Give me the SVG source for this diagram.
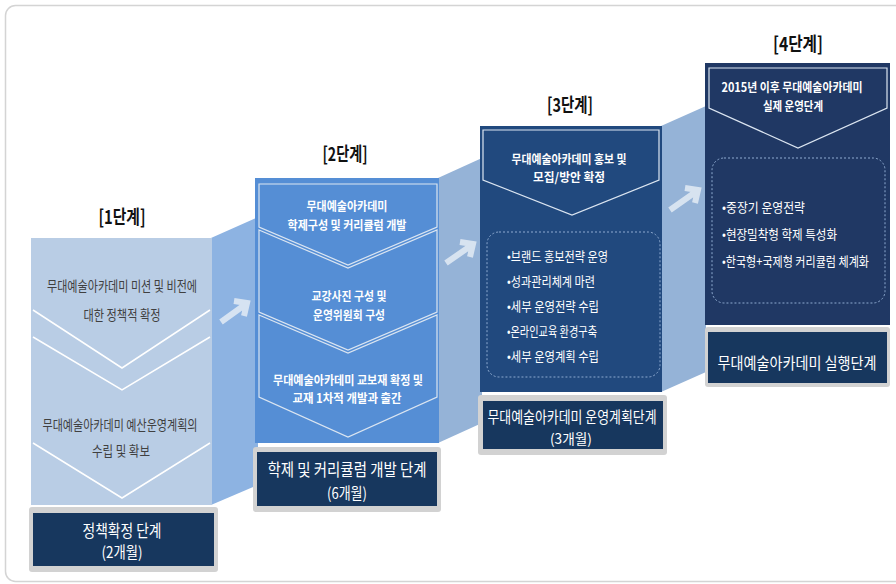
<svg xmlns="http://www.w3.org/2000/svg" width="896" height="584" viewBox="0 0 896 584">
<style>
text{font-family:"Noto Sans CJK KR","Noto Sans",sans-serif;}
.title{font-size:19px;font-weight:bold;fill:#111;text-anchor:middle;}
.t1{font-size:14px;fill:#404040;text-anchor:middle;}
.tb{font-size:12.5px;font-weight:bold;fill:#fff;text-anchor:middle;}
.bul{font-size:13px;fill:#fff;}
.lab{font-size:15.5px;fill:#fff;text-anchor:middle;}
.chev{fill:none;stroke:#dbe5f1;stroke-width:1.2;}
.chev1{fill:none;stroke:#ffffff;stroke-width:1.5;}
.dash{fill:none;stroke:#8eaad0;stroke-width:1;stroke-dasharray:2 2;}
.frame{fill:#d2d2d2;}
.dark{fill:#17375e;}
.arrow{fill:none;stroke:#e3ebf5;stroke-width:6;stroke-opacity:0.85;}
</style>
<rect x="5.5" y="5.5" width="902" height="576" rx="10" fill="#fff" stroke="#d4d4d4" stroke-width="1.5"/>
<g id="connectors">
<polygon points="211,238 258,217 258,485 211,505" fill="#8db3e2"/>
<polygon points="438,178 482,158 482,423 438,443" fill="#95b3d7"/>
<polygon points="661,126 706,106 706,372 661,392" fill="#95b3d7"/>
<path class="arrow" d="M221,322 L246,304 M234,301 L247,303 L244,316"/>
<path class="arrow" d="M446,263 L472,245 M460,242 L473,244 L470,257"/>
<path class="arrow" d="M670,210 L697,191 M685,188 L698,190 L695,203"/>
</g>
<g id="stage1">
<text class="title" x="122" y="224" textLength="47" lengthAdjust="spacingAndGlyphs">[1단계]</text>
<rect x="31" y="238" width="181" height="267" fill="#b9cde5"/>
<polyline class="chev1" points="33,310 122,368 210,310"/>
<polyline class="chev1" points="33,337 122,390 210,337"/>
<polyline class="chev1" points="33,443 122,498 210,443"/>
<text class="t1" x="122" y="291" textLength="150" lengthAdjust="spacingAndGlyphs">무대예술아카데미 미션 및 비전에</text>
<text class="t1" x="122" y="320" textLength="77" lengthAdjust="spacingAndGlyphs">대한 정책적 확정</text>
<text class="t1" x="120" y="430" textLength="155" lengthAdjust="spacingAndGlyphs">무대예술아카데미 예산운영계획의</text>
<text class="t1" x="121" y="456" textLength="58" lengthAdjust="spacingAndGlyphs">수립 및 확보</text>
<rect class="frame" x="29" y="507" width="189" height="65" rx="3"/>
<rect class="dark" x="33" y="513" width="181" height="53"/>
<text class="lab" x="122" y="537" style="font-size:16.5px" textLength="79" lengthAdjust="spacingAndGlyphs">정책확정 단계</text>
<text class="lab" x="122" y="558" textLength="41" lengthAdjust="spacingAndGlyphs">(2개월)</text>
</g>
<g id="stage2">
<text class="title" x="345" y="161" textLength="45" lengthAdjust="spacingAndGlyphs">[2단계]</text>
<rect x="255" y="178" width="184" height="265" fill="#558ed5"/>
<polygon class="chev" points="259,184 437,184 437,227 348,265 259,227"/>
<polygon class="chev" points="259,230 348,268 437,230 437,312 348,350 259,312"/>
<polygon class="chev" points="259,315 348,353 437,315 437,397 348,437 259,397"/>
<text class="tb" x="347" y="211" textLength="81" lengthAdjust="spacingAndGlyphs">무대예술아카데미</text>
<text class="tb" x="347" y="230" textLength="119" lengthAdjust="spacingAndGlyphs">학제구성 및 커리큘럼 개발</text>
<text class="tb" x="349" y="301" textLength="75" lengthAdjust="spacingAndGlyphs">교강사진 구성 및</text>
<text class="tb" x="349" y="320" textLength="72" lengthAdjust="spacingAndGlyphs">운영위원회 구성</text>
<text class="tb" x="348" y="385" textLength="150" lengthAdjust="spacingAndGlyphs">무대예술아카데미 교보재 확정 및</text>
<text class="tb" x="347" y="403" textLength="109" lengthAdjust="spacingAndGlyphs">교재 1차적 개발과 출간</text>
<rect class="frame" x="253" y="447" width="188" height="65" rx="3"/>
<rect class="dark" x="257" y="452" width="180" height="54"/>
<text class="lab" x="347" y="476" style="font-size:16.5px" textLength="159" lengthAdjust="spacingAndGlyphs">학제 및 커리큘럼 개발 단계</text>
<text class="lab" x="347" y="499" textLength="40" lengthAdjust="spacingAndGlyphs">(6개월)</text>
</g>
<g id="stage3">
<text class="title" x="570" y="112" textLength="46" lengthAdjust="spacingAndGlyphs">[3단계]</text>
<rect x="480" y="126" width="182" height="266" fill="#21497e"/>
<polygon class="chev" points="483,130 659,130 659,180 572,215 483,180"/>
<text class="tb" x="569" y="164" textLength="115" lengthAdjust="spacingAndGlyphs">무대예술아카데미 홍보 및</text>
<text class="tb" x="569" y="182" textLength="72" lengthAdjust="spacingAndGlyphs">모집/방안 확정</text>
<rect class="dash" x="487" y="232" width="173" height="145" rx="12"/>
<text class="bul" x="507" y="261" textLength="101" lengthAdjust="spacingAndGlyphs">•브랜드 홍보전략 운영</text>
<text class="bul" x="507" y="286" textLength="88" lengthAdjust="spacingAndGlyphs">•성과관리체계 마련</text>
<text class="bul" x="507" y="311" textLength="92" lengthAdjust="spacingAndGlyphs">•세부 운영전략 수립</text>
<text class="bul" x="507" y="336" textLength="90" lengthAdjust="spacingAndGlyphs">•온라인교육 환경구축</text>
<text class="bul" x="507" y="361" textLength="92" lengthAdjust="spacingAndGlyphs">•세부 운영계획 수립</text>
<rect class="frame" x="478" y="395" width="189" height="60" rx="3"/>
<rect class="dark" x="483" y="401" width="180" height="48"/>
<text class="lab" x="572" y="423" textLength="169" lengthAdjust="spacingAndGlyphs">무대예술아카데미  운영계획단계</text>
<text class="lab" x="571" y="444" style="font-size:14px" textLength="42" lengthAdjust="spacingAndGlyphs">(3개월)</text>
</g>
<g id="stage4">
<text class="title" x="798" y="51" textLength="50" lengthAdjust="spacingAndGlyphs">[4단계]</text>
<rect x="705" y="63" width="185" height="262" fill="#203864"/>
<polygon class="chev" points="709,68 887,68 887,108 798,148 709,108"/>
<text class="tb" x="792" y="92" textLength="141" lengthAdjust="spacingAndGlyphs">2015년 이후 무대예술아카데미</text>
<text class="tb" x="793" y="111" textLength="60" lengthAdjust="spacingAndGlyphs">실제 운영단계</text>
<rect class="dash" x="712" y="158" width="173" height="145" rx="12"/>
<text class="bul" x="722" y="212" textLength="83" lengthAdjust="spacingAndGlyphs">•중장기 운영전략</text>
<text class="bul" x="722" y="239" textLength="115" lengthAdjust="spacingAndGlyphs">•현장밀착형 학제 특성화</text>
<text class="bul" x="722" y="266" textLength="147" lengthAdjust="spacingAndGlyphs">•한국형+국제형 커리큘럼 체계화</text>
<rect class="frame" x="705" y="327" width="185" height="60" rx="3"/>
<rect class="dark" x="708" y="332" width="179" height="51"/>
<text class="lab" x="797" y="369" textLength="159" lengthAdjust="spacingAndGlyphs">무대예술아카데미 실행단계</text>
</g>
</svg>
